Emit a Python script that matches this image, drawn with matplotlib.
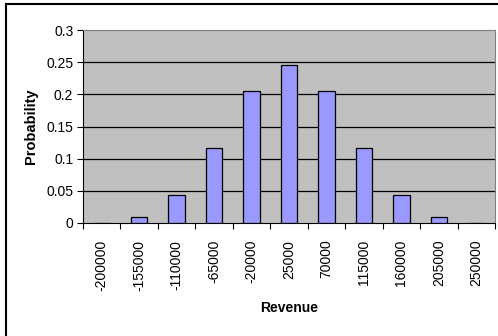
import matplotlib.pyplot as plt
from matplotlib.lines import Line2D
import numpy as np

plt.rcParams['font.family'] = ['Liberation Sans', 'DejaVu Sans']

revenue = [-200000, -155000, -110000, -65000, -20000, 25000,
           70000, 115000, 160000, 205000, 250000]
probability = [0.0, 0.009766, 0.043945, 0.117188, 0.205078, 0.246094,
               0.205078, 0.117188, 0.043945, 0.009766, 0.0]
yticks = [0, 0.05, 0.1, 0.15, 0.2, 0.25, 0.3]

W, H = 498, 336
fig = plt.figure(figsize=(W / 100, H / 100), dpi=100)
fig.patch.set_facecolor('white')

# chart frame (runs off the right and bottom edges)
fig.add_artist(Line2D([6 / W, 6 / W], [0, 1 - 4 / H], color='black', lw=1.5,
                      transform=fig.transFigure))
fig.add_artist(Line2D([6 / W, 1], [1 - 4 / H, 1 - 4 / H], color='black', lw=1.5,
                      transform=fig.transFigure))

ax = fig.add_axes([83 / W, 1 - 223 / H, (495 - 83) / W, (223 - 30) / H])
ax.set_facecolor('#C0C0C0')

x = np.arange(len(revenue))
ax.bar(x, probability, width=0.435, color='#9999FF', edgecolor='black',
       linewidth=0.9, zorder=3)

ax.set_xlim(-0.5, len(revenue) - 0.5)
ax.set_ylim(0, 0.3)
ax.set_yticks(yticks)
ax.set_yticklabels([f'{v:g}' for v in yticks], fontsize=10)
for v in yticks[1:-1]:
    ax.axhline(v, color='black', lw=0.9, zorder=1)

ax.set_xticks(x)
ax.set_xticklabels([str(r) for r in revenue], rotation=90, fontsize=10)
ax.tick_params(axis='x', which='major', length=0, pad=12)
ax.set_xticks(np.arange(len(revenue) + 1) - 0.5, minor=True)
ax.tick_params(axis='x', which='minor', length=4, width=0.8, direction='out')
ax.tick_params(axis='y', length=4, width=0.8, direction='out', pad=3)

for s in ['top', 'right']:
    ax.spines[s].set_color('#808080')
for s in ['left', 'bottom']:
    ax.spines[s].set_color('black')

ax.set_xlabel('Revenue', fontsize=10, fontweight='bold', labelpad=7)
ax.set_ylabel('Probability', fontsize=10.5, fontweight='bold', labelpad=6)

fig.savefig('out.png', dpi=100)
